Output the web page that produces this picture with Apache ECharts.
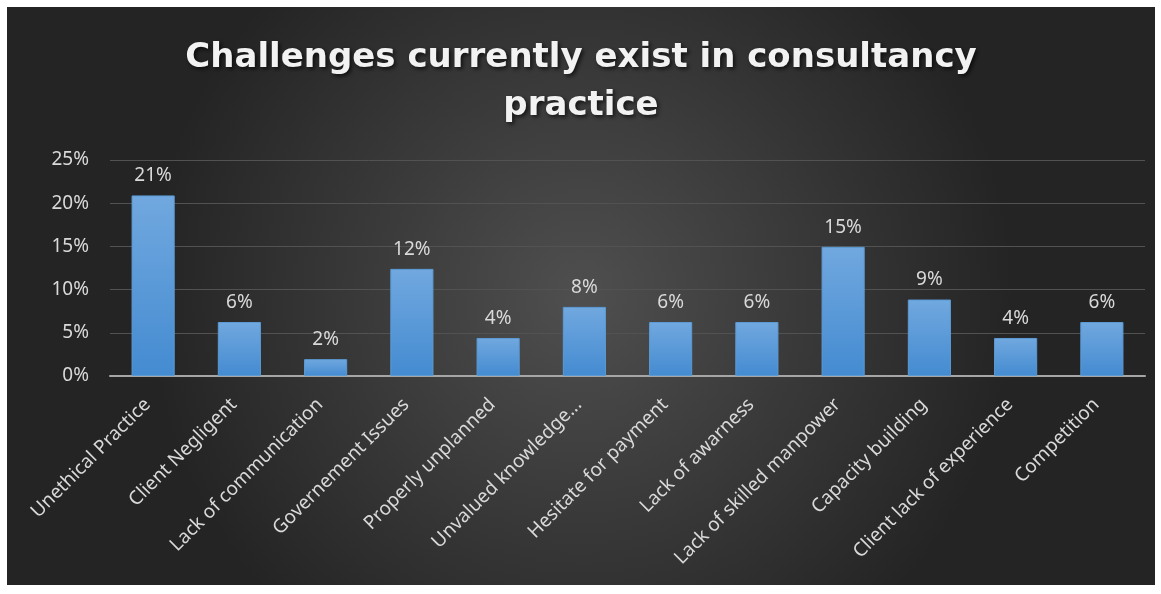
<!DOCTYPE html>
<html>
<head>
<meta charset="utf-8">
<script src="https://cdn.jsdelivr.net/npm/echarts@6/dist/echarts.min.js"></script>
<style>
  html, body { margin: 0; padding: 0; background: #ffffff; }
  #chart { position: absolute; left: 7px; top: 7px; width: 1148px; height: 578px; }
</style>
</head>
<body>
<div id="chart"></div>
<script>
const categories = [
  "Unethical Practice",
  "Client Negligent",
  "Lack of communication",
  "Governement Issues",
  "Properly unplanned",
  "Unvalued knowledge...",
  "Hesitate for payment",
  "Lack of awarness",
  "Lack of skilled manpower",
  "Capacity building",
  "Client lack of experience",
  "Competition",
];
const values = [20.9, 6.25, 1.95, 12.4, 4.4, 8.0, 6.25, 6.25, 14.95, 8.85, 4.4, 6.25];
const yTicks = [0, 5, 10, 15, 20, 25];

const chart = echarts.init(document.getElementById("chart"));

const option = {
  backgroundColor: {
    type: "radial",
    x: 0.5,
    y: 0.5,
    r: 0.75,
    colorStops: [
      { offset: 0, color: "#4f4f4f" },
      { offset: 1, color: "#242424" },
    ],
  },
  title: {
    text: "Challenges currently exist in consultancy\npractice",
    left: "center",
    top: 22,
    textStyle: {
      color: "#f2f2f2",
      fontFamily: "DejaVu Sans",
      fontWeight: "bold",
      fontSize: 34,
      lineHeight: 48,
      textShadowColor: "rgba(0,0,0,0.7)",
      textShadowBlur: 4,
      textShadowOffsetX: 2,
      textShadowOffsetY: 2,
    },
  },
  grid: {
    left: 103,
    right: 10,
    top: 153,
    bottom: 209,
  },
  xAxis: {
    type: "category",
    data: categories,
    axisLine: { lineStyle: { color: "#a6a6a6", width: 2 } },
    axisTick: { show: false },
    axisLabel: {
      rotate: 45,
      interval: 0,
      margin: 20,
      padding: [0, 8, 0, 0],
      color: "#d9d9d9",
      fontFamily: "Noto Sans",
      fontSize: 19,
    },
  },
  yAxis: {
    type: "value",
    min: yTicks[0],
    max: yTicks[yTicks.length - 1],
    interval: 5,
    axisLine: { show: false },
    axisTick: { show: false },
    axisLabel: {
      formatter: "{value}%",
      color: "#d9d9d9",
      fontFamily: "Noto Sans",
      fontSize: 19,
      margin: 21,
    },
    splitLine: { lineStyle: { color: "#525252", width: 1 } },
  },
  series: [
    {
      type: "bar",
      data: values,
      barWidth: "50%",
      itemStyle: {
        color: new echarts.graphic.LinearGradient(0, 0, 0, 1, [
          { offset: 0, color: "#71a8df" },
          { offset: 1, color: "#448bd1" },
        ]),
        borderColor: "#5b9bd5",
        borderWidth: 1,
      },
      label: {
        show: true,
        position: "top",
        distance: 10,
        color: "#d9d9d9",
        fontFamily: "Noto Sans",
        fontSize: 19,
        formatter: (p) => Math.round(p.value) + "%",
      },
    },
  ],
};

chart.setOption(option);
</script>
</body>
</html>
